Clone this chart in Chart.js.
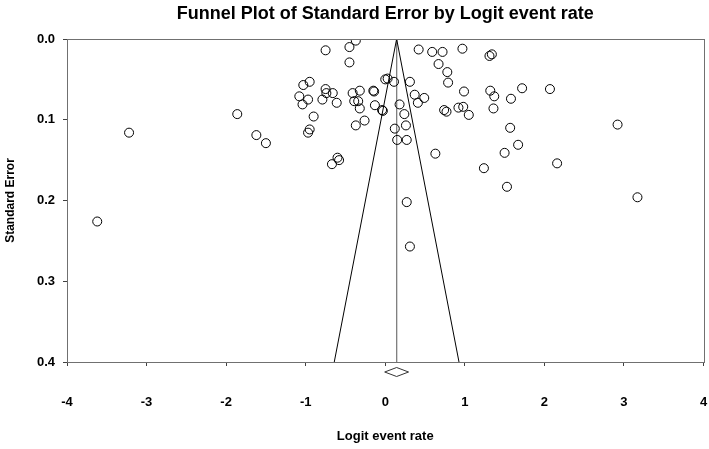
<!DOCTYPE html>
<html><head><meta charset="utf-8">
<script src="https://cdn.jsdelivr.net/npm/chart.js@4/dist/chart.umd.min.js"></script>
<style>html,body{margin:0;padding:0;background:#fff}#wrap{width:709px;height:449px}</style>
</head><body><div id="wrap"><canvas id="c" width="709" height="449"></canvas></div>
<script>
const chartTitle = "Funnel Plot of Standard Error by Logit event rate";
const xTitle = "Logit event rate";
const yTitle = "Standard Error";

const logitRates = [
  -3.62,-3.22,-1.86,-1.62,-1.50,-1.03,-0.95,-1.08,-1.04,-0.97,
  -0.75,-0.37,-0.45,-0.45,-0.75,-0.74,-0.66,-0.79,-0.61,-0.90,
  -0.95,-0.97,-0.60,-0.58,-0.67,-0.41,-0.32,-0.39,-0.34,-0.32,
  -0.15,-0.14,-0.13,-0.26,-0.37,-0.03,-0.04,0.00,0.03,0.11,
  0.31,0.18,0.24,0.37,0.41,0.49,0.26,0.12,0.15,0.27,
  0.42,0.59,0.72,0.97,0.67,0.78,0.79,0.99,0.74,0.77,
  0.92,0.98,1.05,1.31,1.34,1.32,1.37,1.36,1.58,1.72,
  2.07,1.57,1.67,1.50,2.16,1.24,1.53,0.63,2.92,3.17,
  0.27,0.31
];
const standardErrors = [
  0.226,0.116,0.093,0.119,0.129,0.057,0.053,0.071,0.081,0.075,
  0.014,0.002,0.010,0.029,0.062,0.067,0.067,0.075,0.079,0.096,
  0.112,0.116,0.147,0.150,0.155,0.067,0.064,0.077,0.077,0.086,
  0.064,0.065,0.082,0.101,0.107,0.089,0.088,0.050,0.049,0.053,
  0.053,0.081,0.093,0.069,0.079,0.073,0.107,0.111,0.125,0.125,
  0.013,0.016,0.016,0.012,0.031,0.041,0.054,0.065,0.088,0.090,
  0.085,0.084,0.094,0.021,0.019,0.064,0.071,0.086,0.074,0.061,
  0.062,0.110,0.131,0.141,0.154,0.160,0.183,0.142,0.106,0.196,
  0.202,0.257
];
const xTicks = [-4,-3,-2,-1,0,1,2,3,4];
const yTicks = [0.0,0.1,0.2,0.3,0.4];
const pooledEstimate = 0.143;
const pooledLower = -0.007;
const pooledUpper = 0.293;
const maxSE = 0.4;
const zCrit = 1.96;

const studyPoints = logitRates.map((x,i)=>({x:x,y:standardErrors[i]}));
const funnelPoints = [
  {x: pooledEstimate - zCrit*maxSE, y: maxSE},
  {x: pooledEstimate, y: 0},
  {x: pooledEstimate + zCrit*maxSE, y: maxSE}
];
const meanLine = [{x: pooledEstimate, y: 0},{x: pooledEstimate, y: maxSE}];

const FONT = "'Liberation Sans', Arial, sans-serif";

const decor = {
  id:'decor',
  afterDatasetsDraw(chart){
    const {ctx, chartArea:a, scales} = chart;
    ctx.save();
    ctx.strokeStyle = '#707070';
    ctx.lineWidth = 1;
    ctx.strokeRect(Math.round(a.left)+0.5, Math.round(a.top)+0.5, Math.round(a.right-a.left), Math.round(a.bottom-a.top));
    const xl = scales.x.getPixelForValue(pooledLower);
    const xc = scales.x.getPixelForValue(pooledEstimate);
    const xr = scales.x.getPixelForValue(pooledUpper);
    const yc = a.bottom + 10;
    ctx.strokeStyle = '#333';
    ctx.beginPath();
    ctx.moveTo(xl, yc); ctx.lineTo(xc, yc-4.5); ctx.lineTo(xr, yc); ctx.lineTo(xc, yc+4.5); ctx.closePath();
    ctx.stroke();
    ctx.fillStyle = '#000';
    ctx.font = "bold 18px " + FONT;
    ctx.textAlign = 'center';
    ctx.textBaseline = 'middle';
    ctx.fillText(chartTitle, (a.left+a.right)/2, 14);
    ctx.restore();
  }
};

new Chart(document.getElementById('c'), {
  type:'scatter',
  data:{
    datasets:[
      {type:'line', data: meanLine, borderColor:'#808080', borderWidth:1, pointRadius:0, fill:false, order:3},
      {type:'line', data: funnelPoints, borderColor:'#000', borderWidth:1, pointRadius:0, fill:false, tension:0, order:2},
      {data: studyPoints, pointRadius:4.5, pointBorderColor:'#000', pointBackgroundColor:'rgba(0,0,0,0)', pointBorderWidth:1, order:1}
    ]
  },
  options:{
    responsive:false,
    animation:false,
    layout:{padding:{top:39, right:5, left:0, bottom:0}},
    plugins:{legend:{display:false}, tooltip:{enabled:false}, title:{display:false}},
    scales:{
      x:{
        type:'linear', min:-4, max:4,
        afterBuildTicks(s){ s.ticks = xTicks.map(v=>({value:v})); },
        afterFit(s){ s.height = 87; s.paddingLeft = 0; s.paddingRight = 0; },
        grid:{display:true, drawOnChartArea:false, drawTicks:true, tickLength:4, color:'#404040'},
        border:{display:true, color:'#404040'},
        ticks:{padding:29, color:'#000', font:{family:FONT, size:13, weight:'bold'}, callback:v=>String(v), maxRotation:0, autoSkip:false},
        title:{display:true, text:xTitle, color:'#000', font:{family:FONT, size:13, weight:'bold'}, padding:{top:0,bottom:5}}
      },
      y:{
        type:'linear', min:0, max:0.4, reverse:true,
        afterBuildTicks(s){ s.ticks = yTicks.map(v=>({value:v})); },
        afterFit(s){ s.width = 67; s.paddingTop = 0; s.paddingBottom = 0; },
        grid:{display:true, drawOnChartArea:false, drawTicks:true, tickLength:4, color:'#404040'},
        border:{display:true, color:'#404040'},
        ticks:{padding:8, color:'#000', font:{family:FONT, size:13, weight:'bold'}, callback:v=>Number(v).toFixed(1)},
        title:{display:true, text:yTitle, color:'#000', font:{family:FONT, size:12, weight:'bold'}, padding:{top:3,bottom:0}}
      }
    }
  },
  plugins:[decor]
});
</script></body></html>
